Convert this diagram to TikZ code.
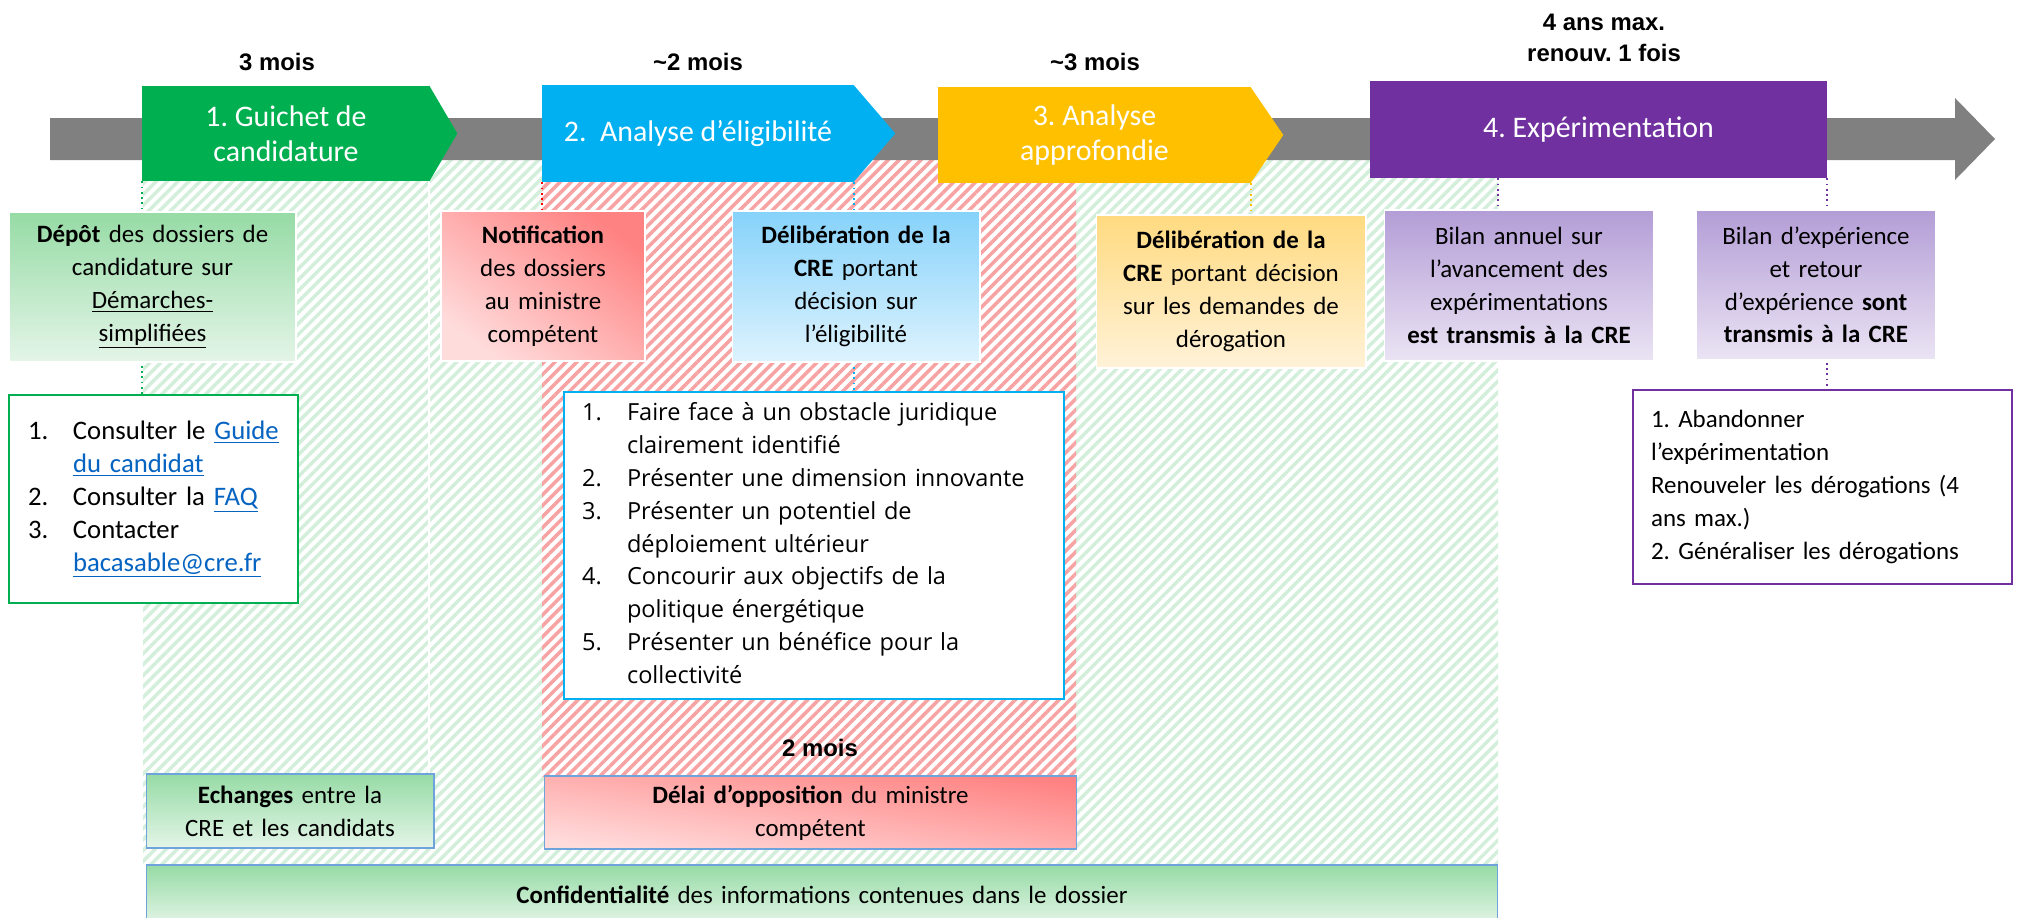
\documentclass[tikz,border=0pt]{standalone}
\usepackage{fontspec}
\setmainfont{Carlito}
\newfontfamily\arialfont{Liberation Sans}
\newfontfamily\segoefont{Open Sans}
\usetikzlibrary{calc, backgrounds, patterns.meta}

\definecolor{phgreen}{HTML}{00B050}
\definecolor{phblue}{HTML}{00B0F0}
\definecolor{phyellow}{HTML}{FFC000}
\definecolor{phpurple}{HTML}{7030A0}
\definecolor{bargray}{HTML}{808080}
\definecolor{linkblue}{HTML}{0563C1}
\definecolor{edgeblue}{HTML}{6FA3DC}
\definecolor{hatchgreen}{HTML}{D3EEDB}
\definecolor{hatchred}{HTML}{F7A3A3}
\definecolor{greentop}{HTML}{96DBA5}
\definecolor{greenbot}{HTML}{E4F5E8}
\definecolor{redtop}{HTML}{FF8282}
\definecolor{redbot}{HTML}{FFDCDC}
\definecolor{bluetop}{HTML}{86D2FA}
\definecolor{bluebot}{HTML}{DEF3FE}
\definecolor{yeltop}{HTML}{FFDA80}
\definecolor{yelbot}{HTML}{FFF2D8}
\definecolor{purtop}{HTML}{B39DD6}
\definecolor{purbot}{HTML}{EBE4F4}

\newcommand{\lien}[1]{\textcolor{linkblue}{\underline{#1}}}

\begin{document}
\frenchspacing
\begin{tikzpicture}[x=0.02cm, y=-0.02cm,
        phase/.style={fill=#1, text=white, inner sep=0pt, align=center, font=\fontsize{17}{19.8}\selectfont},
        desc/.style={draw=white, line width=0.6pt, inner sep=0pt, align=center, font=\fontsize{14.2}{18.7}\selectfont},
        shadev/.style 2 args={top color=#1, bottom color=#2},
        shaded/.style 2 args={top color=#1, bottom color=#2, shading angle=-36},
        outline/.style={draw=#1, line width=1.3pt, fill=white, inner ysep=0pt, align=left, font=\fontsize{14.2}{18.7}\selectfont},
        dur/.style={font=\arialfont\bfseries\fontsize{13.6}{17.6}\selectfont, align=center},
        dropline/.style={#1, dotted, line width=1pt},
        hatch/.style={pattern={Lines[angle=45, distance=4.4pt, line width=2pt]}, pattern color=#1}]
            \useasboundingbox (0,0) rectangle (2021,917);

            \node[dur] (d1) at (277,62) {3 mois};
            \node[dur] (d2) at (698,62) {\textasciitilde2 mois};
            \node[dur] (d3) at (1095,62) {\textasciitilde3 mois};
            \node[dur] (d4) at (1604,38) {4 ans max.\\renouv. 1 fois};

            \node[phase=phgreen, minimum width=5.76cm, minimum height=1.9cm] (guichet) at (286,133.5) {1. Guichet de\\candidature};
            \node[phase=phblue, minimum width=6.24cm, minimum height=1.94cm] (eligib) at (698,133.5) {2.\ \ Analyse d’éligibilité};
            \node[phase=phyellow, minimum width=6.26cm, minimum height=1.92cm] (approf) at (1094.5,135) {3. Analyse\\approfondie};
            \node[phase=phpurple, minimum width=9.14cm, minimum height=1.94cm] (experim) at (1598.5,129.5) {4. Expérimentation};
            \foreach \n/\c/\t in {guichet/phgreen/27, eligib/phblue/41, approf/phyellow/32}{
                \fill[\c] ($(\n.north east)+(-1,0)$) -- ($(\n.east)+(\t,0)$) -- ($(\n.south east)+(-1,0)$) -- cycle;
            }

            \node[desc, shadev={greentop}{greenbot}, text width=5.74cm, minimum height=3cm] (depot) at (152.5,287) {\textbf{Dépôt} des dossiers de\\candidature sur\\\underline{Démarches-}\\\underline{simplifiées}};
            \node[desc, shaded={redtop}{redbot}, text width=4.08cm, minimum height=3cm] (notif) at (543,286) {\textbf{Notification}\\des dossiers\\au ministre\\compétent};
            \node[desc, shadev={bluetop}{bluebot}, text width=4.96cm, minimum height=3.02cm] (delibA) at (856,286.5) {\textbf{Délibération de la}\\\textbf{CRE} portant\\décision sur\\l’éligibilité};
            \node[desc, shadev={yeltop}{yelbot}, text width=5.4cm, minimum height=3.06cm] (delibB) at (1231,291.5) {\textbf{Délibération de la}\\\textbf{CRE} portant décision\\sur les demandes de\\dérogation};
            \node[desc, shadev={purtop}{purbot}, text width=5.4cm, minimum height=3.02cm] (bilanA) at (1519,285.5) {Bilan annuel sur\\l’avancement des\\expérimentations\\\textbf{est transmis à la CRE}};
            \node[desc, shadev={purtop}{purbot}, text width=4.8cm, minimum height=3cm] (bilanB) at (1816,285) {Bilan d’expérience\\et retour\\d’expérience \textbf{sont}\\\textbf{transmis à la CRE}};

            \node[outline=phgreen, font=\fontsize{15.2}{18.7}\selectfont, text width=5.02cm, inner xsep=0.38cm, minimum height=4.16cm] (steps) at (153.5,499) {\begin{tabular}{@{}p{0.9cm}@{}l@{}}
                1. & Consulter le \lien{Guide}\\
                   & \lien{du candidat}\\
                2. & Consulter la \lien{FAQ}\\
                3. & Contacter\\
                   & \lien{bacasable@cre.fr}
            \end{tabular}};
            \node[outline=phblue, font=\segoefont\fontsize{13.4}{18.7}\selectfont, text width=9.28cm, inner xsep=0.36cm, minimum height=6.14cm] (criteria) at (814,545.5) {\begin{tabular}{@{}p{0.9cm}@{}l@{}}
                1. & Faire face à un obstacle juridique\\
                   & clairement identifié\\
                2. & Présenter une dimension innovante\\
                3. & Présenter un potentiel de\\
                   & déploiement ultérieur\\
                4. & Concourir aux objectifs de la\\
                   & politique énergétique\\
                5. & Présenter un bénéfice pour la\\
                   & collectivité
            \end{tabular}};
            \node[outline=phpurple, text width=6.86cm, inner xsep=0.36cm, minimum height=3.88cm] (choix) at (1822.5,487) {1. Abandonner\\l’expérimentation\\Renouveler les dérogations (4\\ans max.)\\2. Généraliser les dérogations};

            \node[dur] (d5) at (820,748) {2 mois};
            \node[desc, draw=edgeblue, shadev={greentop}{greenbot}, text width=5.76cm, minimum height=1.48cm] (echanges) at (290,811) {\textbf{Echanges} entre la\\CRE et les candidats};
            \node[desc, draw=edgeblue, shaded={redtop}{redbot}, shading angle=-8, text width=10.66cm, minimum height=1.46cm] (delai) at (810.5,812.5) {\textbf{Délai d’opposition} du ministre\\compétent};
            \node[desc, draw=edgeblue, shadev={greentop}{greenbot}, text width=27.04cm, minimum height=1.2cm] (confid) at (822,895) {\textbf{Confidentialité} des informations contenues dans le dossier};

            \coordinate (annuel) at ($(experim.south west)+(128,0)$);
            \begin{scope}[on background layer]
                \path[hatch=hatchgreen] (143,160) rectangle (1498,865);
                \fill[white] (542,160) rectangle (1076,776);
                \path[hatch=hatchred] (542,160) rectangle (1076,776);
                \draw[white, line width=0.6pt] (429,181) -- (429,774);
                \fill[bargray] (50,118) -- (1955,118) -- (1955,98) -- (1995,139) -- (1955,180) -- (1955,160) -- (50,160) -- cycle;
                \draw[dropline=phgreen] (guichet.south west) -- (guichet.south west |- steps.north);
                \draw[dropline=red] (eligib.south west) -- (eligib.south west |- notif.north);
                \draw[dropline=phblue] (eligib.south east) -- (eligib.south east |- criteria.north);
                \draw[dropline=phyellow] (approf.south east) -- (approf.south east |- delibB.north);
                \draw[dropline=phpurple] (annuel) -- (annuel |- bilanA.north);
                \draw[dropline=phpurple] (experim.south east) -- (experim.south east |- choix.north);
            \end{scope}
        \end{tikzpicture}
\end{document}
